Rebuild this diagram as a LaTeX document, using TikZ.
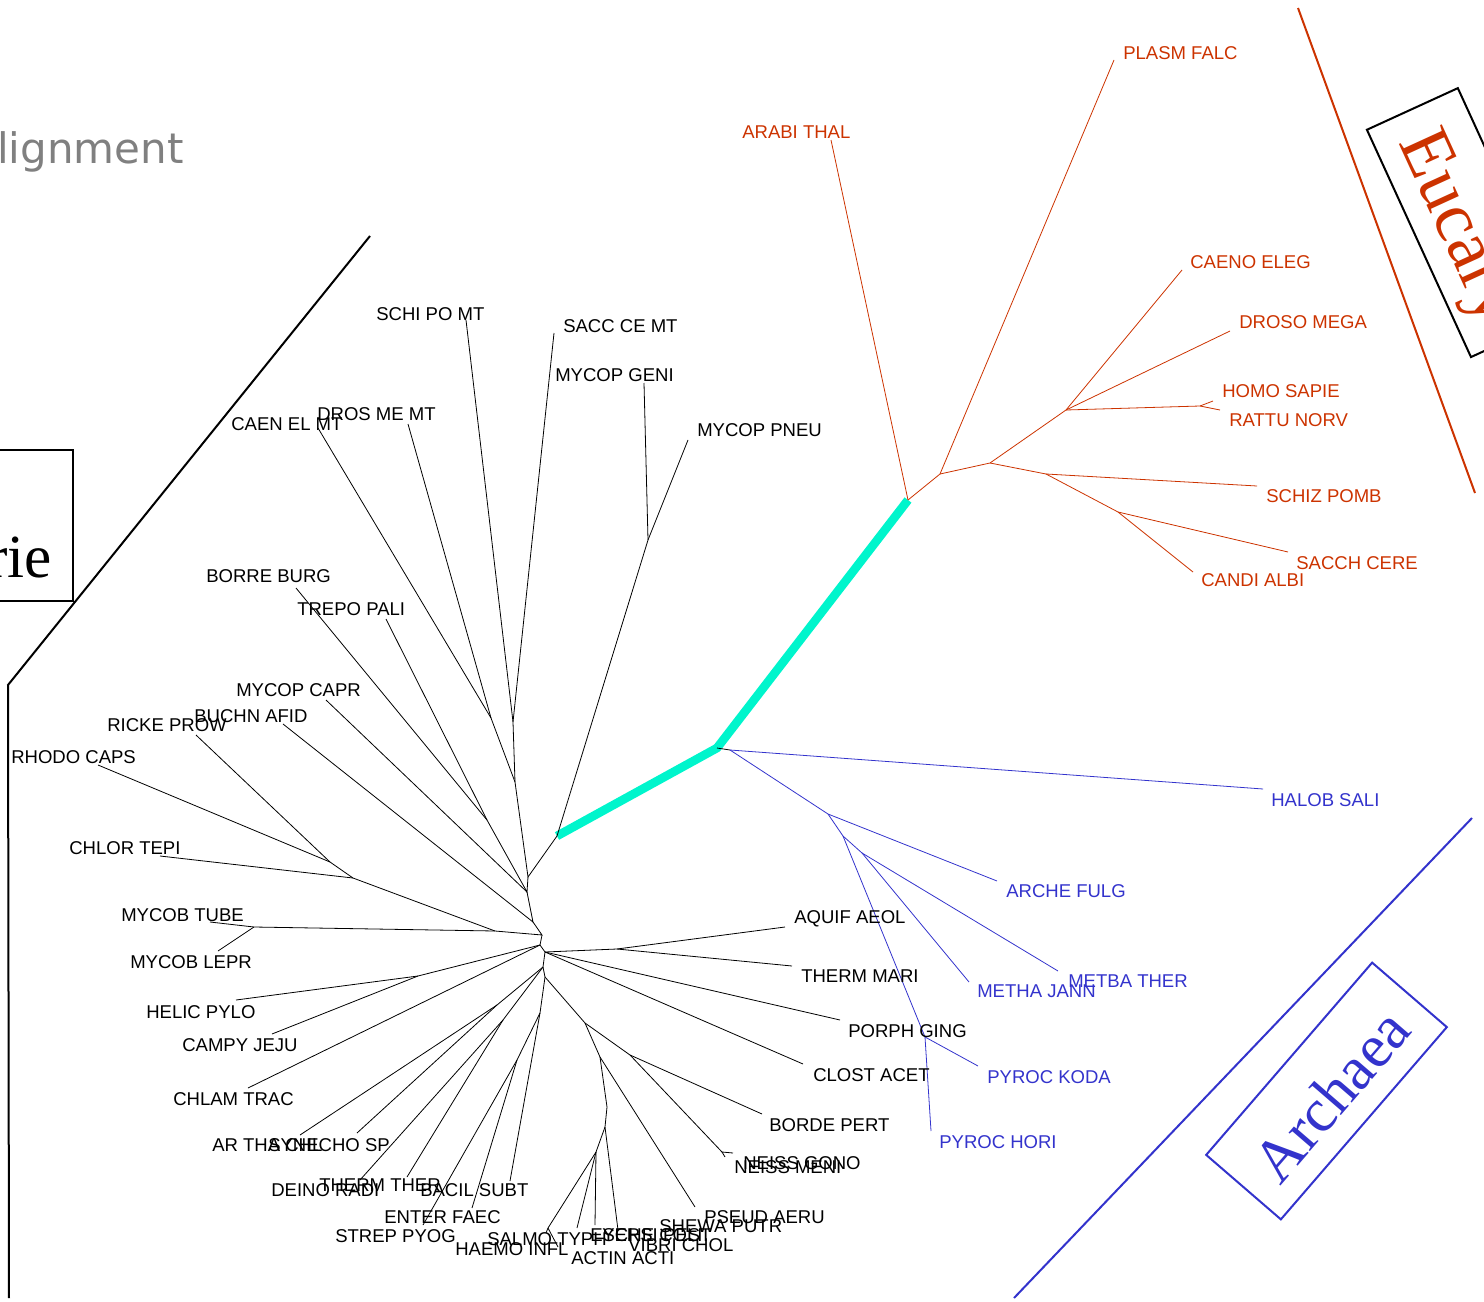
\documentclass[tikz,border=0pt]{standalone}
\usepackage{fontspec}
\newfontfamily\labfont{Liberation Sans}
\newfontfamily\bigserif{Liberation Serif}
\newfontfamily\titlefont{DejaVu Sans}
\definecolor{euc}{HTML}{CC3300}
\definecolor{arc}{HTML}{3333CC}
\definecolor{rootc}{HTML}{00F5CC}
\definecolor{titlegray}{HTML}{808080}
\begin{document}
\begin{tikzpicture}[x=0.75pt,y=-0.75pt,
  br/.style={line width=0.6pt},
  eub/.style={br, draw=euc},
  arb/.style={br, draw=arc},
  lab/.style={anchor=west, inner sep=0pt, font=\labfont\fontsize{13.9}{16}\selectfont},
  eul/.style={lab, text=euc},
  arl/.style={lab, text=arc},
  bord/.style={line width=1.5pt},
  domtext/.style={inner sep=0pt, font=\bigserif\fontsize{46}{50}\selectfont}]
\useasboundingbox (0,0) rectangle (1484,1302);
\clip (0,0) rectangle (1484,1302);

% ---------- title and domain frames ----------
\node[anchor=base west, inner sep=0pt, text=titlegray,
      font=\titlefont\fontsize{31.5}{36}\selectfont] (title) at (-3,164) {lignment};

\draw[bord] (-10,450) rectangle (73,601);
\node[domtext, anchor=base east] (bactname) at (52,577) {rie};
\coordinate (bk1) at (370,236);
\coordinate (bk2) at (8,685);
\coordinate (bk3) at (9,1298);
\draw[bord] (bk1) -- (bk2) -- (bk3);

\coordinate (eu1) at (1298,8);
\coordinate (eu2) at (1475,493);
\draw[bord, draw=euc] (eu1) -- (eu2);
\node[bord, draw, minimum width=187.5pt, minimum height=75pt, rotate=-65.4] (eubox) at (1464.4,222.6) {};
\node[domtext, text=euc, rotate=-65.4, font=\bigserif\fontsize{54}{58}\selectfont] (euname) at (1462,243) {Eucarya};

\coordinate (ar1) at (1014,1298);
\coordinate (ar2) at (1472,818);
\draw[bord, draw=arc] (ar1) -- (ar2);
\node[bord, draw=arc, minimum width=190.5pt, minimum height=74pt, rotate=49.2] (arbox) at (1326.5,1091) {};
\node[domtext, text=arc, rotate=49.2] (arname) at (1331,1095) {Archaea};

% ---------- root branch ----------
\coordinate (c0) at (557,836);
\coordinate (r1) at (717,748);
\coordinate (e0) at (908,500);
\draw[rootc, line width=6.5pt, line join=miter] (c0) -- (r1) -- (e0);

% ---------- Eucarya ----------
\coordinate (e1) at (940,474);
\coordinate (e2) at (990,463);
\coordinate (e3) at (1066,410);
\coordinate (e4) at (1200,406);
\coordinate (e5) at (1046,474);
\coordinate (e6) at (1118,512);
\coordinate (tARABI) at (831,140);
\coordinate (tPLASM) at (1114,60);
\coordinate (tCAENO) at (1182,270);
\coordinate (tDROSO) at (1230,331);
\coordinate (tHOMO) at (1213,401);
\coordinate (tRATTU) at (1220,410);
\coordinate (tSCHIZ) at (1257,486);
\coordinate (tSACCH) at (1288,552);
\coordinate (tCANDI) at (1193,572);
\draw[eub] (e0) -- (tARABI);
\draw[eub] (e0) -- (e1) -- (tPLASM);
\draw[eub] (e1) -- (e2) -- (e3) -- (tCAENO);
\draw[eub] (e3) -- (tDROSO);
\draw[eub] (e3) -- (e4) -- (tHOMO);
\draw[eub] (e4) -- (tRATTU);
\draw[eub] (e2) -- (e5) -- (tSCHIZ);
\draw[eub] (e5) -- (e6) -- (tSACCH);
\draw[eub] (e6) -- (tCANDI);

\node[eul] (lPLASM) at (1123,53) {PLASM FALC};
\node[eul] (lARABI) at (742,132) {ARABI THAL};
\node[eul] (lCAENO) at (1190,262) {CAENO ELEG};
\node[eul] (lDROSO) at (1239,322) {DROSO MEGA};
\node[eul] (lHOMO) at (1222,391) {HOMO SAPIE};
\node[eul] (lRATTU) at (1229,420) {RATTU NORV};
\node[eul] (lSCHIZ) at (1266,496) {SCHIZ POMB};
\node[eul] (lSACCH) at (1296,563) {SACCH CERE};
\node[eul] (lCANDI) at (1201,580) {CANDI ALBI};

% ---------- Archaea ----------
\coordinate (a0) at (730,750);
\coordinate (a1) at (828,814);
\coordinate (a2) at (843,836);
\coordinate (a3) at (862,853);
\coordinate (a4) at (925,1037);
\coordinate (tHALOB) at (1263,789);
\coordinate (tARCHE) at (997,881);
\coordinate (tMETHA) at (969,982);
\coordinate (tMETBA) at (1058,971);
\coordinate (tKODA) at (978,1066);
\coordinate (tHORI) at (931,1131);
\draw[br] (r1) -- (a0);
\draw[arb] (a0) -- (tHALOB);
\draw[arb] (a0) -- (a1) -- (tARCHE);
\draw[arb] (a1) -- (a2) -- (a3) -- (tMETHA);
\draw[arb] (a3) -- (tMETBA);
\draw[arb] (a2) -- (a4) -- (tKODA);
\draw[arb] (a4) -- (tHORI);

\node[arl] (lHALOB) at (1271,800) {HALOB SALI};
\node[arl] (lARCHE) at (1006,891) {ARCHE FULG};
\node[arl] (lMETHA) at (977,991) {METHA JANN};
\node[arl] (lMETBA) at (1068,981) {METBA THER};
\node[arl] (lKODA) at (987,1077) {PYROC KODA};
\node[arl] (lHORI) at (939,1142) {PYROC HORI};

% ---------- Bacteria ----------
\coordinate (m1) at (648,540);
\coordinate (b1) at (528,877);
\coordinate (b2) at (515,782);
\coordinate (b3) at (513,722);
\coordinate (bCD) at (491,718);
\coordinate (bSP) at (487,820);
\coordinate (bX) at (527,892);
\coordinate (bA) at (533,922);
\coordinate (b4) at (542,935);
\coordinate (b5) at (540,945);
\coordinate (b5b) at (545,952);
\coordinate (b6) at (543,967);
\coordinate (b7) at (545,977);
\coordinate (bR) at (330,862);
\coordinate (bC) at (353,878);
\coordinate (bM) at (495,931);
\coordinate (bMy) at (254,927);
\coordinate (bH) at (418,976);
\coordinate (bCy) at (497,1005);
\coordinate (bDT) at (503,1020);
\coordinate (bF) at (540,1013);
\coordinate (bL) at (517,1060);
\coordinate (bP) at (585,1023);
\coordinate (bB) at (630,1055);
\coordinate (bN) at (722,1152);
\coordinate (bQ) at (600,1057);
\coordinate (bG1) at (607,1107);
\coordinate (bG) at (605,1127);
\coordinate (bG2) at (596,1152);
\coordinate (bHA) at (548,1228);
\coordinate (bAQ) at (617,949);

\coordinate (tGENI) at (644,383);
\coordinate (tPNEU) at (688,440);
\coordinate (tSCHI) at (466,320);
\coordinate (tSACC) at (554,333);
\coordinate (tCAEN) at (318,428);
\coordinate (tDROS) at (408,424);
\coordinate (tBORRE) at (296,588);
\coordinate (tTREPO) at (386,619);
\coordinate (tCAPR) at (326,700);
\coordinate (tBUCHN) at (283,724);
\coordinate (tRICKE) at (196,735);
\coordinate (tRHODO) at (98,765);
\coordinate (tCHLOR) at (160,856);
\coordinate (tTUBE) at (210,922);
\coordinate (tLEPR) at (218,951);
\coordinate (tHELIC) at (236,1000);
\coordinate (tCAMPY) at (272,1034);
\coordinate (tCHLAM) at (248,1088);
\coordinate (tARTHA) at (300,1135);
\coordinate (tSYN) at (357,1133);
\coordinate (tDEINO) at (360,1180);
\coordinate (tTHERM) at (407,1177);
\coordinate (tBACIL) at (510,1181);
\coordinate (tSTREP) at (423,1225);
\coordinate (tENTER) at (472,1208);
\coordinate (tHAEMO) at (546,1233);
\coordinate (tACTIN) at (558,1247);
\coordinate (tSALMO) at (577,1228);
\coordinate (tESCHE) at (595,1225);
\coordinate (tVIBRI) at (618,1230);
\coordinate (tPSEUD) at (695,1207);
\coordinate (tMENI) at (733,1153);
\coordinate (tGONO) at (725,1157);
\coordinate (tBORDE) at (762,1114);
\coordinate (tCLOST) at (803,1064);
\coordinate (tPORPH) at (840,1020);
\coordinate (tTMARI) at (792,966);
\coordinate (tAQUIF) at (785,927);

\draw[br] (c0) -- (m1) -- (tGENI);
\draw[br] (m1) -- (tPNEU);
\draw[br] (c0) -- (b1) -- (b2) -- (b3) -- (tSCHI);
\draw[br] (b3) -- (tSACC);
\draw[br] (b2) -- (bCD) -- (tCAEN);
\draw[br] (bCD) -- (tDROS);
\draw[br] (b1) -- (bX) -- (bSP) -- (tBORRE);
\draw[br] (bSP) -- (tTREPO);
\draw[br] (bX) -- (tCAPR);
\draw[br] (bX) -- (bA) -- (tBUCHN);
\draw[br] (bA) -- (b4) -- (bM) -- (bC) -- (bR) -- (tRICKE);
\draw[br] (bR) -- (tRHODO);
\draw[br] (bC) -- (tCHLOR);
\draw[br] (bM) -- (bMy) -- (tTUBE);
\draw[br] (bMy) -- (tLEPR);
\draw[br] (b4) -- (b5) -- (bH) -- (tHELIC);
\draw[br] (bH) -- (tCAMPY);
\draw[br] (b5) -- (tCHLAM);
\draw[br] (b5) -- (b5b) -- (bAQ) -- (tAQUIF);
\draw[br] (bAQ) -- (tTMARI);
\draw[br] (b5b) -- (tPORPH);
\draw[br] (b5b) -- (tCLOST);
\draw[br] (b5b) -- (b6) -- (bCy) -- (tARTHA);
\draw[br] (bCy) -- (tSYN);
\draw[br] (b6) -- (bDT) -- (tDEINO);
\draw[br] (bDT) -- (tTHERM);
\draw[br] (b6) -- (b7) -- (bF) -- (tBACIL);
\draw[br] (bF) -- (bL) -- (tSTREP);
\draw[br] (bL) -- (tENTER);
\draw[br] (b7) -- (bP) -- (bB) -- (tBORDE);
\draw[br] (bB) -- (bN) -- (tMENI);
\draw[br] (bN) -- (tGONO);
\draw[br] (bP) -- (bQ) -- (tPSEUD);
\draw[br] (bQ) -- (bG1) -- (bG) -- (tVIBRI);
\draw[br] (bG) -- (bG2) -- (bHA) -- (tHAEMO);
\draw[br] (bHA) -- (tACTIN);
\draw[br] (bG2) -- (tSALMO);
\draw[br] (bG2) -- (tESCHE);

\node[lab] (lSCHI) at (376,314) {SCHI PO MT};
\node[lab] (lSACC) at (563,326) {SACC CE MT};
\node[lab] (lGENI) at (555,375) {MYCOP GENI};
\node[lab] (lPNEU) at (697,430) {MYCOP PNEU};
\node[lab] (lCAEN) at (231,424) {CAEN EL MT};
\node[lab] (lDROS) at (317,414) {DROS ME MT};
\node[lab] (lBORRE) at (206,576) {BORRE BURG};
\node[lab] (lTREPO) at (297,609) {TREPO PALI};
\node[lab] (lCAPR) at (236,690) {MYCOP CAPR};
\node[lab] (lBUCHN) at (194,716) {BUCHN AFID};
\node[lab] (lRICKE) at (107,725) {RICKE PROW};
\node[lab] (lRHODO) at (11,757) {RHODO CAPS};
\node[lab] (lCHLOR) at (69,848) {CHLOR TEPI};
\node[lab] (lTUBE) at (121,915) {MYCOB TUBE};
\node[lab] (lLEPR) at (130,962) {MYCOB LEPR};
\node[lab] (lHELIC) at (146,1012) {HELIC PYLO};
\node[lab] (lCAMPY) at (182,1045) {CAMPY JEJU};
\node[lab] (lCHLAM) at (173,1099) {CHLAM TRAC};
\node[lab] (lARTHA) at (212,1145) {AR THA CHL};
\node[lab] (lSYN) at (268,1145) {SYNECHO SP};
\node[lab] (lDEINO) at (271,1190) {DEINO RADI};
\node[lab] (lTHERM) at (319,1185) {THERM THER};
\node[lab] (lBACIL) at (420,1190) {BACIL SUBT};
\node[lab] (lENTER) at (384,1217) {ENTER FAEC};
\node[lab] (lSTREP) at (335,1236) {STREP PYOG};
\node[lab] (lHAEMO) at (455,1249) {HAEMO INFL};
\node[lab] (lSALMO) at (487,1239) {SALMO TYPH};
\node[lab] (lESCHE) at (590,1235) {ESCHE COLI};
\node[lab] (lYERSI) at (602,1235) {YERSI PEST};
\node[lab] (lVIBRI) at (628,1245) {VIBRI CHOL};
\node[lab] (lACTIN) at (571,1258) {ACTIN ACTI};
\node[lab] (lSHEWA) at (659,1226) {SHEWA PUTR};
\node[lab] (lPSEUD) at (704,1217) {PSEUD AERU};
\node[lab] (lMENI) at (734,1167) {NEISS MENI};
\node[lab] (lGONO) at (743,1163) {NEISS GONO};
\node[lab] (lBORDE) at (769,1125) {BORDE PERT};
\node[lab] (lCLOST) at (813,1075) {CLOST ACET};
\node[lab] (lPORPH) at (848,1031) {PORPH GING};
\node[lab] (lTMARI) at (801,976) {THERM MARI};
\node[lab] (lAQUIF) at (794,919) {AQUIF AEOL};
\end{tikzpicture}
\end{document}
